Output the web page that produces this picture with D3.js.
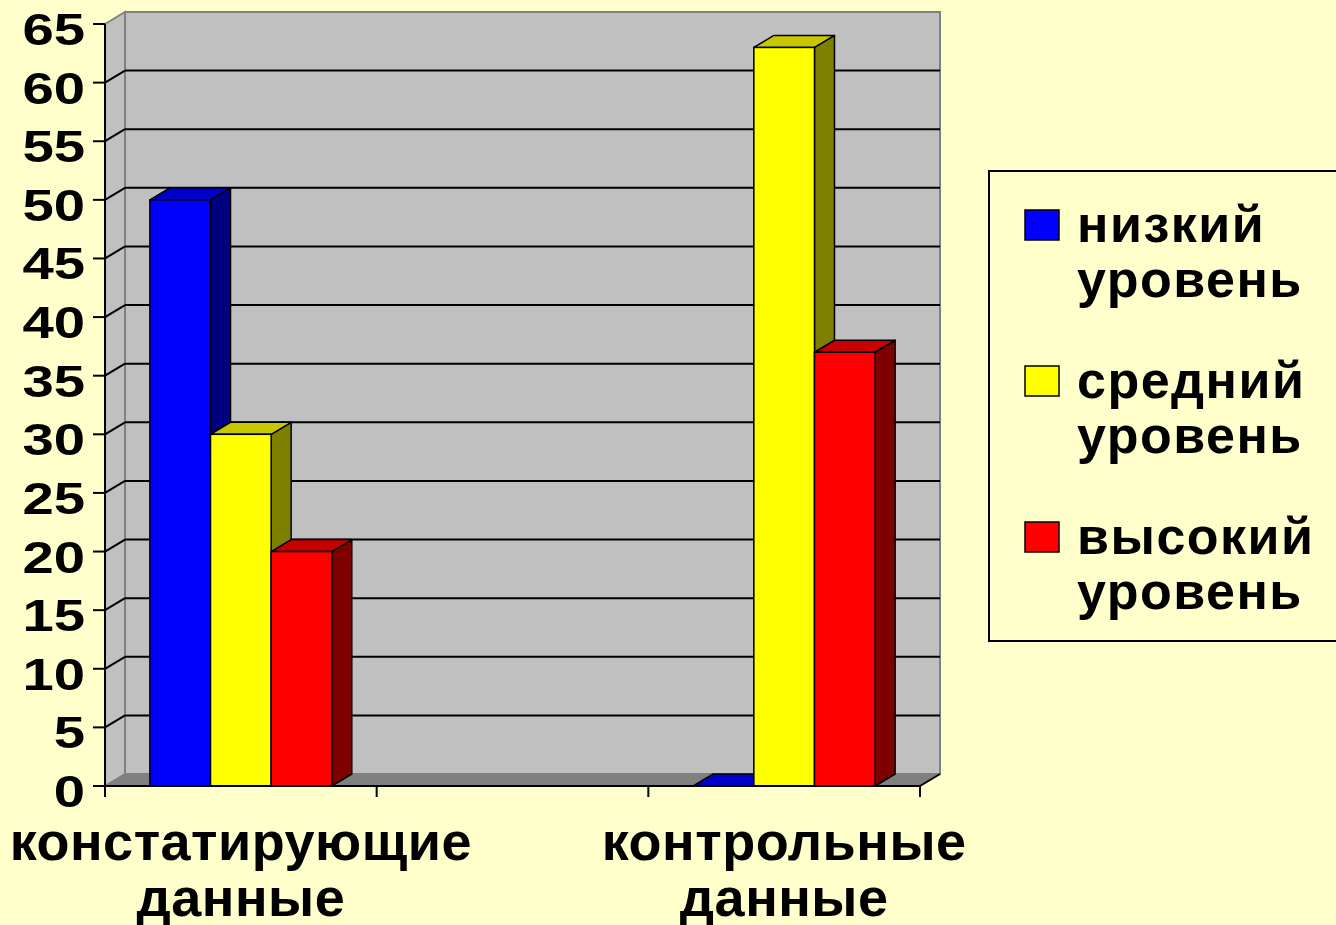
<!DOCTYPE html>
<html>
<head>
<meta charset="utf-8">
<script src="https://cdn.jsdelivr.net/npm/d3@7"></script>
<style>
  html, body { margin: 0; padding: 0; background: #FFFFCC; overflow: hidden; }
  text { font-family: "Liberation Sans", Arial, sans-serif; font-weight: bold; fill: #000; }
</style>
</head>
<body>
<svg id="chart" width="1336" height="925"></svg>
<script>
// Categories (the middle slot is an empty spacer category)
const categories = ["констатирующие данные", "", "контрольные данные"];
// Series names shown in the legend
const seriesNames = ["низкий уровень", "средний уровень", "высокий уровень"];
// Values per series, one entry per category (null = no bar)
const lowLevel  = [50, null, 0];
const midLevel  = [30, null, 63];
const highLevel = [20, null, 37];
// Value axis tick labels
const yTickValues = [0, 5, 10, 15, 20, 25, 30, 35, 40, 45, 50, 55, 60, 65];

const seriesValues = [lowLevel, midLevel, highLevel];
const palette = [
  { front: "#0000FF", top: "#0000C8", side: "#000080" },
  { front: "#FFFF00", top: "#C8C800", side: "#808000" },
  { front: "#FF0000", top: "#C80000", side: "#800000" }
];

const svg = d3.select("#chart");
const W = 1336, H = 925;
svg.append("rect").attr("width", W).attr("height", H).attr("fill", "#FFFFCC");

// Plot frame (front plane) and 3D depth offset
const plotLeft = 105, plotRight = 920, plotBottom = 786, plotTop = 24;
const dx = 20, dy = -12;

const x = d3.scaleBand().domain(d3.range(categories.length)).range([plotLeft, plotRight]).padding(0);
const xs = d3.scaleBand().domain(d3.range(seriesNames.length)).range([0, x.bandwidth()])
  .paddingInner(0).paddingOuter(0.74);
const y = d3.scaleLinear().domain([0, 65]).range([plotBottom, plotTop]);

const pts = a => a.map(p => p.join(",")).join(" ");

// Back wall
svg.append("polygon")
  .attr("points", pts([[plotLeft + dx, y(65) + dy], [plotRight + dx, y(65) + dy], [plotRight + dx, y(0) + dy], [plotLeft + dx, y(0) + dy]]))
  .attr("fill", "#C0C0C0").attr("stroke", "#808080").attr("stroke-width", 2);
// Side wall
svg.append("polygon")
  .attr("points", pts([[plotLeft, y(65)], [plotLeft + dx, y(65) + dy], [plotLeft + dx, y(0) + dy], [plotLeft, y(0)]]))
  .attr("fill", "#C0C0C0").attr("stroke", "#808080").attr("stroke-width", 2);
// Floor
svg.append("polygon")
  .attr("points", pts([[plotLeft, y(0)], [plotLeft + dx, y(0) + dy], [plotRight + dx, y(0) + dy], [plotRight, y(0)]]))
  .attr("fill", "#808080").attr("stroke", "#808080").attr("stroke-width", 1);

// Gridlines on the back and side walls
const gridVals = yTickValues.filter(v => v > 0 && v < 65);
svg.append("g").selectAll("line").data(gridVals).join("line")
  .attr("x1", plotLeft + dx).attr("x2", plotRight + dx)
  .attr("y1", d => y(d) + dy).attr("y2", d => y(d) + dy)
  .attr("stroke", "#000").attr("stroke-width", 2);
svg.append("g").selectAll("line").data(gridVals).join("line")
  .attr("x1", plotLeft).attr("x2", plotLeft + dx)
  .attr("y1", d => y(d)).attr("y2", d => y(d) + dy)
  .attr("stroke", "#000").attr("stroke-width", 2);

// Bars
const barsG = svg.append("g");
categories.forEach((c, i) => {
  seriesValues.forEach((vals, j) => {
    const v = vals[i];
    if (v === null) return;
    const x0 = x(i) + xs(j), w = xs.bandwidth();
    const yt = y(v), yb = y(0);
    const col = palette[j];
    if (v > 0) {
      barsG.append("polygon")
        .attr("points", pts([[x0 + w, yt], [x0 + w + dx, yt + dy], [x0 + w + dx, yb + dy], [x0 + w, yb]]))
        .attr("fill", col.side).attr("stroke", "#000").attr("stroke-width", 1.5).attr("stroke-linejoin", "round");
    }
    barsG.append("polygon")
      .attr("points", pts([[x0, yt], [x0 + dx, yt + dy], [x0 + w + dx, yt + dy], [x0 + w, yt]]))
      .attr("fill", col.top).attr("stroke", "#000").attr("stroke-width", 1.5).attr("stroke-linejoin", "round");
    if (v > 0) {
      barsG.append("rect")
        .attr("x", x0).attr("y", yt).attr("width", w).attr("height", yb - yt)
        .attr("fill", col.front).attr("stroke", "#000").attr("stroke-width", 1.5);
    }
  });
});

// Value axis
const yAxis = svg.append("g");
yAxis.append("line").attr("x1", plotLeft).attr("x2", plotLeft).attr("y1", y(0)).attr("y2", y(65))
  .attr("stroke", "#000").attr("stroke-width", 2);
yAxis.selectAll("line.tick").data(yTickValues).join("line").attr("class", "tick")
  .attr("x1", plotLeft - 12).attr("x2", plotLeft).attr("y1", d => y(d)).attr("y2", d => y(d))
  .attr("stroke", "#000").attr("stroke-width", 2);
yAxis.selectAll("text").data(yTickValues).join("text")
  .attr("transform", d => `translate(${plotLeft - 20},${y(d) + 21}) scale(1.25,1)`)
  .attr("text-anchor", "end").attr("font-size", 45)
  .text(d => d);

// Category axis
const xAxis = svg.append("g");
xAxis.append("line").attr("x1", plotLeft - 12).attr("x2", plotRight).attr("y1", y(0)).attr("y2", y(0))
  .attr("stroke", "#000").attr("stroke-width", 2);
xAxis.append("line").attr("x1", plotRight).attr("x2", plotRight + dx).attr("y1", y(0)).attr("y2", y(0) + dy)
  .attr("stroke", "#000").attr("stroke-width", 2);
const xTickPos = d3.range(categories.length + 1).map(k => plotLeft + k * x.step());
xAxis.selectAll("line.tick").data(xTickPos).join("line").attr("class", "tick")
  .attr("x1", d => d).attr("x2", d => d).attr("y1", y(0)).attr("y2", y(0) + 11)
  .attr("stroke", "#000").attr("stroke-width", 2);
categories.forEach((c, i) => {
  if (!c) return;
  const cx = x(i) + x.bandwidth() / 2;
  c.split(" ").forEach((line, k) => {
    xAxis.append("text")
      .attr("transform", `translate(${cx},${860 + k * 56})`)
      .attr("text-anchor", "middle").attr("font-size", 54).attr("letter-spacing", 0.5)
      .text(line);
  });
});

// Legend
const legend = svg.append("g");
legend.append("rect").attr("x", 989).attr("y", 171).attr("width", 360).attr("height", 470)
  .attr("fill", "#FFFFCC").attr("stroke", "#000").attr("stroke-width", 2);
seriesNames.forEach((name, j) => {
  const gy = 210 + j * 156;
  legend.append("rect").attr("x", 1025).attr("y", gy).attr("width", 34).attr("height", 30)
    .attr("fill", palette[j].front).attr("stroke", "#000").attr("stroke-width", 1.5);
  name.split(" ").forEach((line, k) => {
    legend.append("text")
      .attr("x", 1077).attr("y", gy + 32 + k * 55)
      .attr("font-size", 52).attr("letter-spacing", 1.5)
      .text(line);
  });
});
</script>
</body>
</html>
